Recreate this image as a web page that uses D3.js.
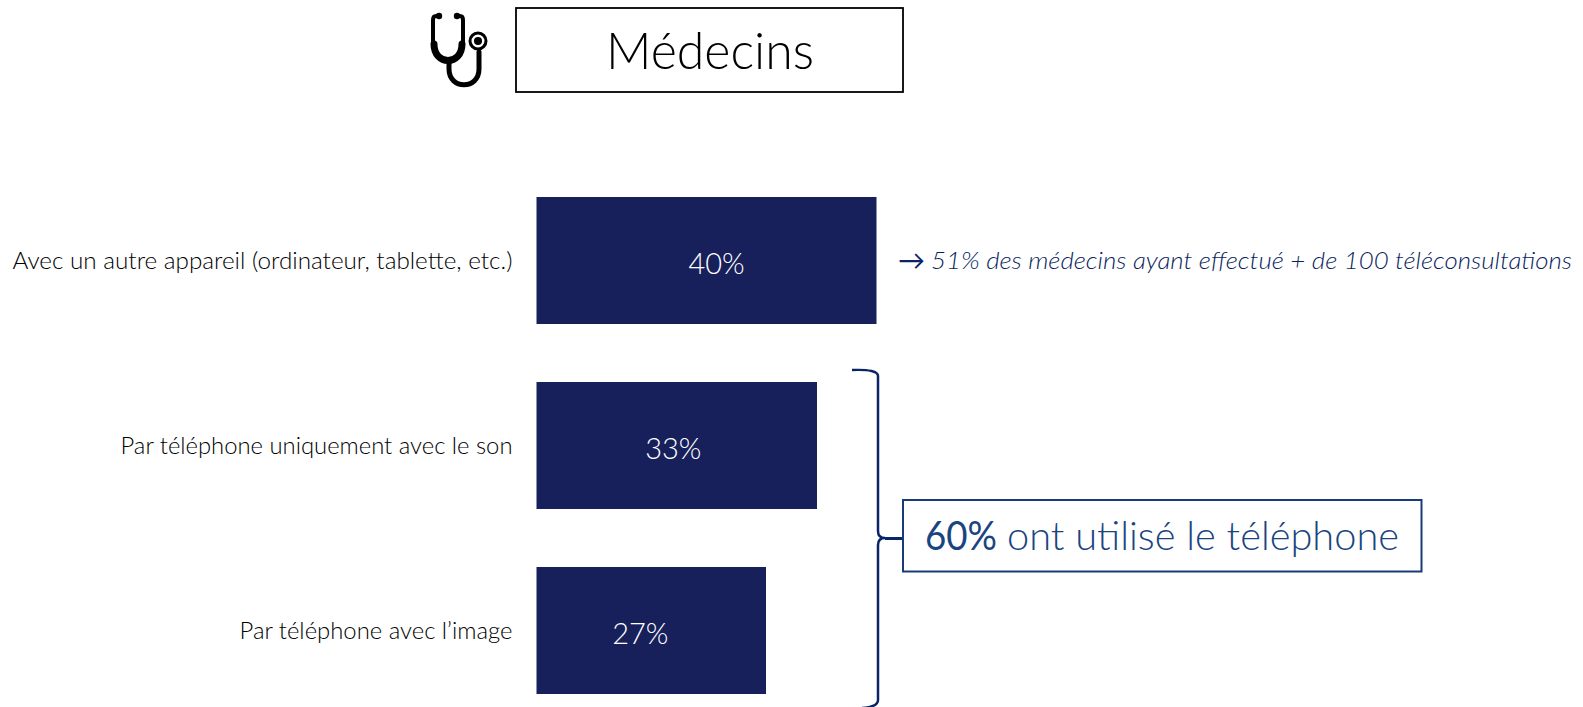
<!DOCTYPE html>
<html><head><meta charset="utf-8">
<script src="https://cdn.jsdelivr.net/npm/d3@7"></script>
<style>html,body{margin:0;padding:0;background:#fff;overflow:hidden}svg{display:block}text{font-family:Lato,"Open Sans",sans-serif;font-weight:300}</style>
</head><body><svg id="c" width="1583" height="707"></svg>
<script>
const categories = ["Avec un autre appareil (ordinateur, tablette, etc.)","Par téléphone uniquement avec le son","Par téléphone avec l’image"];
const values = [40,33,27];
const titleText = "Médecins";
const noteText = "51% des médecins ayant effectué + de 100 téléconsultations";
const calloutValue = "60%";
const calloutText = "ont utilisé le téléphone";

const svg = d3.select("#c");
const barColor="#17205b", navy="#0a2468", blue="#1a4480";

const x = d3.scaleLinear().domain([0,40]).range([536.5,876.5]);
const y = d3.scaleBand().domain(categories).range([197,694]).paddingInner(0.3135).paddingOuter(0);

function fit(sel,w){sel.attr("textLength",w).attr("lengthAdjust","spacingAndGlyphs");return sel;}

// Bars
svg.append("g").selectAll("rect").data(values).join("rect")
  .attr("x",x(0)).attr("y",(d,i)=>y(categories[i]))
  .attr("width",d=>x(d)-x(0)).attr("height",y.bandwidth()).attr("fill",barColor);

// Category axis
const ax = svg.append("g").attr("transform",`translate(${x(0)},0)`)
  .call(d3.axisLeft(y).tickSize(0).tickPadding(24));
ax.select(".domain").remove();
ax.selectAll("text").attr("fill","#000").style("font-size","23px").attr("dy","0.35em")
  .style("font-family","Lato,sans-serif").style("font-weight","300")
  .each(function(d,i){ fit(d3.select(this),[500,392,273][i]); });

// Value labels (placed off-centre as in the source)
const labelShift=[10,-3.5,-11];
svg.append("g").selectAll("text").data(values).join("text")
  .attr("x",(d,i)=>(x(0)+x(d))/2+labelShift[i])
  .attr("y",(d,i)=>y(categories[i])+y.bandwidth()/2+13.5)
  .attr("text-anchor","middle").attr("fill","#fff").style("font-size","29px")
  .text(d=>d+"%");

// Title box
svg.append("rect").attr("x",516).attr("y",8).attr("width",387).attr("height",84)
  .attr("fill","#fff").attr("stroke","#000").attr("stroke-width",1.8);
fit(svg.append("text").attr("x",606).attr("y",69).attr("fill","#000").style("font-size","52px").text(titleText),208);

// Stethoscope icon
const ic=svg.append("g").attr("fill","none").attr("stroke","#000").attr("stroke-linecap","round");
ic.append("path").attr("stroke-width",4).attr("d","M439,16 H436 Q433,16 433,20 V44 M457,16 H460 Q463,16 463,20 V44");
ic.append("path").attr("stroke-width",7).attr("d","M434,44 C434,66 462,66 462,44");
ic.append("path").attr("stroke-width",5).attr("d","M449,60 V69 C449,90 479,90 479,69 V52");
ic.append("circle").attr("cx",478).attr("cy",41).attr("r",8).attr("stroke-width",3);
ic.append("circle").attr("cx",478).attr("cy",41).attr("r",4).attr("fill","#000").attr("stroke","none");
ic.append("circle").attr("cx",439).attr("cy",16).attr("r",3.2).attr("fill","#000").attr("stroke","none");
ic.append("circle").attr("cx",457).attr("cy",16).attr("r",3.2).attr("fill","#000").attr("stroke","none");

// Annotation
svg.append("text").attr("x",898).attr("y",270).attr("fill",navy).style("font-size","27px").style("font-weight","400").text("→");
fit(svg.append("text").attr("x",931).attr("y",269).attr("fill","#0a1f60").style("font-size","24px").style("font-style","italic").style("font-weight","300").text(noteText),641);

// Brace
svg.append("path").attr("fill","none").attr("stroke",navy).attr("stroke-width",2.5)
  .attr("d","M852,370 Q878,369 878,376 V531 Q878,538 885,538 Q878,538 878,545 V700 Q878,707 862,708");
svg.append("path").attr("fill","none").attr("stroke",navy).attr("stroke-width",3).attr("d","M885,538.5 H903");

// Callout
svg.append("rect").attr("x",903).attr("y",500).attr("width",518.5).attr("height",71.5)
  .attr("fill","#fff").attr("stroke","#1a3a78").attr("stroke-width",2);
fit(svg.append("text").attr("x",925).attr("y",550).attr("fill",blue).style("font-size","40px").style("font-weight","400").text(calloutValue),72);
fit(svg.append("text").attr("x",1007).attr("y",550).attr("fill",blue).style("font-size","40px").text(calloutText),392);
</script></body></html>
